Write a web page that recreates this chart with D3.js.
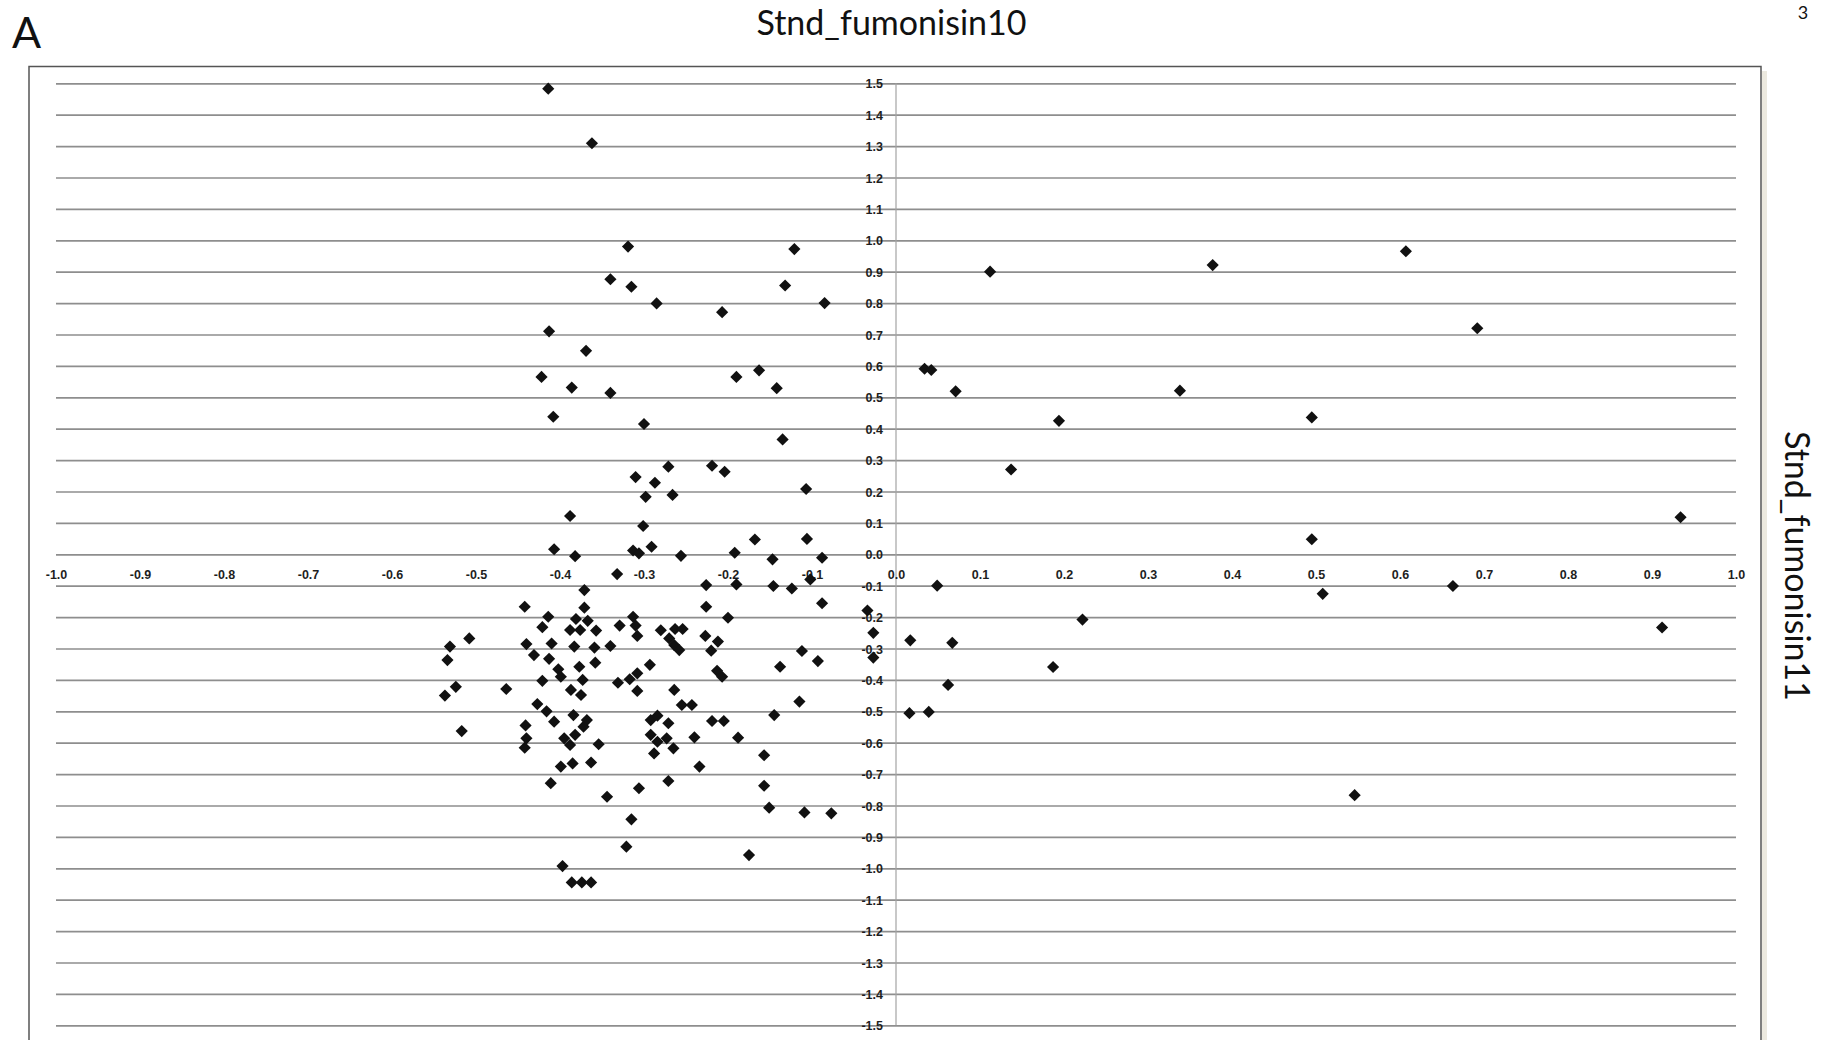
<!DOCTYPE html>
<html><head><meta charset="utf-8">
<script src="https://cdn.jsdelivr.net/npm/d3@7"></script>
<style>html,body{margin:0;padding:0;background:#fff;overflow:hidden}</style>
</head><body>
<svg id="chart" width="1825" height="1040"></svg>
<script>
const titleText = "Stnd_fumonisin10";
const yTitleText = "Stnd_fumonisin11";
const panelLabel = "A";
const pageNumber = "3";

const xTicks = [-1.0,-0.9,-0.8,-0.7,-0.6,-0.5,-0.4,-0.3,-0.2,-0.1,0.0,0.1,0.2,0.3,0.4,0.5,0.6,0.7,0.8,0.9,1.0];
const yTicks = [1.5,1.4,1.3,1.2,1.1,1.0,0.9,0.8,0.7,0.6,0.5,0.4,0.3,0.2,0.1,0.0,-0.1,-0.2,-0.3,-0.4,-0.5,-0.6,-0.7,-0.8,-0.9,-1.0,-1.1,-1.2,-1.3,-1.4,-1.5];

// Stnd_fumonisin10 (horizontal) values
const stnd10 = [
 -0.414,-0.362,-0.319,-0.121,-0.340,-0.315,-0.132,0.112,0.377,0.607,
 -0.285,-0.207,-0.085,-0.413,-0.369,-0.422,-0.386,-0.340,-0.408,-0.300,
 -0.190,-0.163,-0.142,-0.135,-0.310,-0.271,-0.287,-0.298,-0.266,-0.219,
 -0.204,-0.107,-0.388,-0.301,-0.407,-0.382,-0.313,-0.306,-0.291,-0.256,
 -0.192,-0.168,-0.147,-0.106,-0.088,-0.332,-0.371,-0.226,-0.190,-0.146,
 -0.124,-0.102,
 -0.442,-0.414,-0.421,-0.371,-0.381,-0.367,-0.388,-0.376,-0.357,-0.329,
 -0.313,-0.310,-0.308,-0.280,-0.263,-0.254,-0.270,-0.264,-0.258,-0.226,
 -0.200,-0.227,-0.212,-0.220,-0.213,-0.207,-0.088,-0.034,-0.027,-0.027,
 -0.112,-0.093,-0.138,-0.508,-0.531,-0.534,-0.524,-0.537,-0.517,-0.464,
 -0.440,-0.431,-0.410,-0.413,-0.402,-0.399,-0.421,-0.383,-0.359,-0.377,
 -0.358,-0.340,-0.373,-0.387,-0.375,-0.331,-0.317,-0.308,-0.308,-0.293,
 -0.264,-0.255,-0.243,-0.427,-0.416,-0.407,-0.384,-0.368,-0.372,-0.441,
 -0.440,-0.442,-0.395,-0.388,-0.382,-0.354,-0.399,-0.385,-0.363,-0.411,
 -0.344,-0.306,-0.315,-0.321,-0.397,-0.292,-0.284,-0.271,-0.292,-0.284,
 -0.273,-0.265,-0.288,-0.240,-0.234,-0.271,-0.219,-0.205,-0.188,-0.157,
 -0.157,-0.151,-0.145,-0.115,-0.109,-0.077,-0.175,-0.386,-0.374,-0.363,
 0.034,0.042,0.071,0.194,0.137,0.338,0.495,0.495,0.049,0.508,
 0.017,0.067,0.062,0.016,0.039,0.187,0.222,
 0.692,0.934,0.663,0.912,0.546
];
// Stnd_fumonisin11 (vertical) values
const stnd11 = [
 1.483,1.309,0.980,0.972,0.876,0.852,0.856,0.900,0.921,0.965,
 0.799,0.771,0.800,0.710,0.648,0.565,0.531,0.514,0.438,0.415,
 0.565,0.586,0.529,0.366,0.246,0.279,0.228,0.183,0.189,0.282,
 0.263,0.208,0.122,0.090,0.016,-0.006,0.012,0.003,0.024,-0.005,
 0.005,0.047,-0.016,0.049,-0.011,-0.063,-0.114,-0.098,-0.096,-0.101,
 -0.109,-0.080,
 -0.167,-0.199,-0.232,-0.170,-0.206,-0.212,-0.241,-0.241,-0.243,-0.227,
 -0.199,-0.227,-0.260,-0.242,-0.238,-0.238,-0.268,-0.289,-0.305,-0.167,
 -0.202,-0.260,-0.278,-0.307,-0.371,-0.390,-0.156,-0.179,-0.250,-0.329,
 -0.308,-0.340,-0.358,-0.268,-0.294,-0.337,-0.422,-0.450,-0.563,-0.429,
 -0.286,-0.321,-0.284,-0.333,-0.366,-0.390,-0.403,-0.294,-0.297,-0.358,
 -0.345,-0.292,-0.400,-0.432,-0.448,-0.409,-0.398,-0.379,-0.435,-0.352,
 -0.432,-0.480,-0.480,-0.477,-0.500,-0.533,-0.512,-0.528,-0.549,-0.545,
 -0.586,-0.616,-0.586,-0.607,-0.575,-0.605,-0.676,-0.666,-0.663,-0.729,
 -0.772,-0.745,-0.844,-0.931,-0.993,-0.528,-0.514,-0.538,-0.575,-0.597,
 -0.586,-0.618,-0.634,-0.583,-0.676,-0.722,-0.531,-0.531,-0.584,-0.640,
 -0.737,-0.807,-0.512,-0.469,-0.822,-0.825,-0.958,-1.045,-1.045,-1.045,
 0.591,0.587,0.519,0.425,0.270,0.521,0.436,0.048,-0.100,-0.126,
 -0.274,-0.282,-0.416,-0.506,-0.502,-0.359,-0.208,
 0.720,0.118,-0.101,-0.233,-0.767
];

const points = stnd10.map((v, i) => ({x: v, y: stnd11[i]}));

const svg = d3.select("#chart");
const W = 1825, H = 1040;

const x = d3.scaleLinear().domain([-1, 1]).range([56, 1736]);
const y = d3.scaleLinear().domain([-1.5, 1.5]).range([1025.3, 83.3]);

// Frame shadow + frame
svg.append("rect").attr("x", 1762).attr("y", 71).attr("width", 5).attr("height", H)
  .attr("fill", "#ece9df");
svg.append("rect").attr("x", 29).attr("y", 66.5).attr("width", 1732).attr("height", H)
  .attr("fill", "#fff").attr("stroke", "#555").attr("stroke-width", 1.5);

// Horizontal gridlines (axis with long ticks)
const grid = svg.append("g").attr("transform", `translate(${x(-1)},0)`)
  .call(d3.axisLeft(y).tickValues(yTicks).tickSize(-(x(1) - x(-1))).tickFormat(""));
grid.select(".domain").remove();
grid.selectAll(".tick line").attr("stroke", "#8e8e8e").attr("stroke-width", 1.7);

// Vertical zero line
svg.append("line").attr("x1", x(0)).attr("x2", x(0)).attr("y1", y(1.5)).attr("y2", y(-1.5))
  .attr("stroke", "#a3a3a3").attr("stroke-width", 1.2);

const fmt = d => d.toFixed(1);
const tickFont = "'Liberation Sans', Arial, sans-serif";

// Y axis labels at x = 0
const yAxis = svg.append("g").attr("transform", `translate(${x(0)},0)`)
  .call(d3.axisLeft(y).tickValues(yTicks).tickSize(0).tickPadding(13).tickFormat(fmt));
yAxis.select(".domain").remove();
yAxis.selectAll("text").attr("font-family", tickFont).attr("font-size", 12.5)
  .attr("font-weight", "bold").attr("fill", "#1e1e1e").attr("dy", "0.36em");

// X axis labels at y = 0
const xAxis = svg.append("g").attr("transform", `translate(0,${y(0)})`)
  .call(d3.axisBottom(x).tickValues(xTicks).tickSize(0).tickFormat(fmt));
xAxis.select(".domain").remove();
xAxis.selectAll("text").attr("font-family", tickFont).attr("font-size", 12.5)
  .attr("font-weight", "bold").attr("fill", "#1e1e1e").attr("y", 579 - y(0)).attr("dy", 0);

// Points
svg.append("g").selectAll("path").data(points).join("path")
  .attr("d", d3.symbol(d3.symbolSquare, 74))
  .attr("transform", d => `translate(${x(d.x)},${y(d.y)}) rotate(45)`)
  .attr("fill", "#111");

// Texts
svg.append("text").attr("x", 891.5).attr("y", 35).attr("text-anchor", "middle")
  .attr("font-family", "Lato, 'Open Sans', sans-serif").attr("font-size", 34).attr("fill", "#111")
  .text(titleText);
svg.append("text").attr("x", 12).attr("y", 47.5)
  .attr("font-family", "Lato, 'Open Sans', sans-serif").attr("font-size", 43).attr("fill", "#111")
  .text(panelLabel);
svg.append("text").attr("x", 1803).attr("y", 19).attr("text-anchor", "middle")
  .attr("font-family", "Lato, 'Open Sans', sans-serif").attr("font-size", 18).attr("fill", "#111")
  .text(pageNumber);
svg.append("text").attr("transform", "translate(1785,566) rotate(90)").attr("text-anchor", "middle")
  .attr("font-family", "Lato, 'Open Sans', sans-serif").attr("font-size", 34).attr("fill", "#111")
  .text(yTitleText);
</script>
</body></html>
